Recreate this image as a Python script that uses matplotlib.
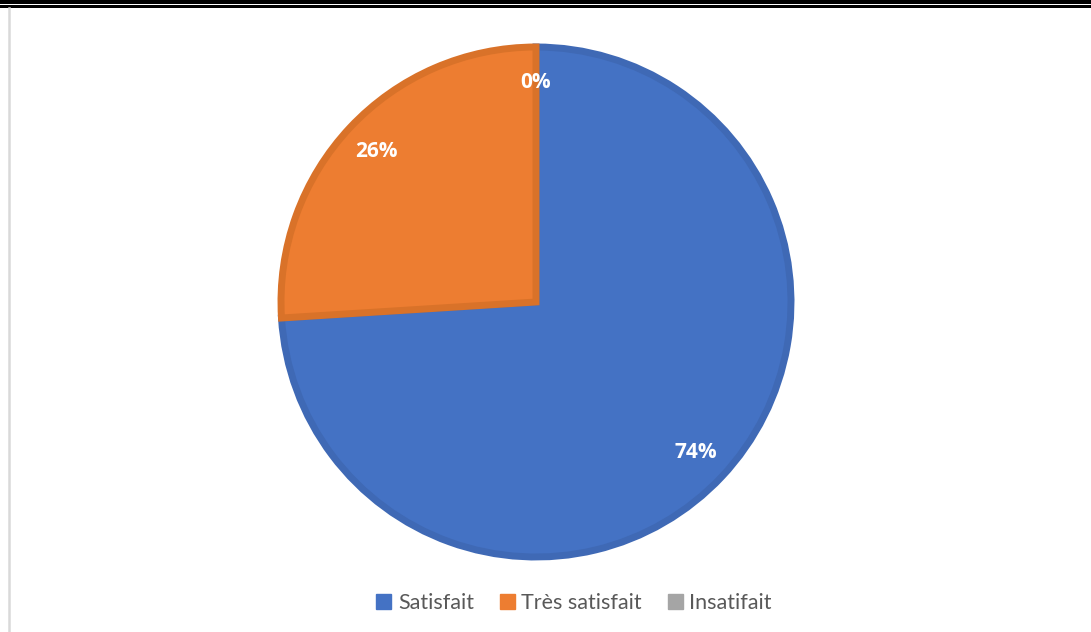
import matplotlib.pyplot as plt
from matplotlib.patches import Rectangle
from matplotlib.lines import Line2D

labels = ['Satisfait', 'Très satisfait', 'Insatifait']
values = [74, 26, 0]
colors = ['#4472C4', '#ED7D31', '#A5A5A5']
edges = ['#3F69B5', '#D97229', '#999999']

plt.rcParams['font.family'] = ['Lato', 'DejaVu Sans']

W, H = 1091, 632
fig = plt.figure(figsize=(W / 100, H / 100), dpi=100)

# pie axes: centre (536, 302) px, radius ~255 px (edge stroke adds a bit)
cx, cy, r = 536, 302, 255
ax = fig.add_axes([(cx - r) / W, (H - cy - r) / H, 2 * r / W, 2 * r / H])

wedges, texts, autotexts = ax.pie(
    values, colors=colors, startangle=90, counterclock=False,
    autopct='%1.0f%%', pctdistance=0.86,
    wedgeprops=dict(linewidth=5, edgecolor='none'),
    textprops=dict(color='white', fontsize=15, fontweight='bold',
                   family=['Open Sans', 'DejaVu Sans']))
for w, e, v in zip(wedges, edges, values):
    w.set_edgecolor(e)
    if v == 0:
        w.set_linewidth(0)
ax.set_xlim(-1, 1)
ax.set_ylim(-1, 1)

# legend
handles = [Rectangle((0, 0), 1, 1, facecolor=c, edgecolor=c) for c in colors]
fig.legend(handles, labels, loc='center', bbox_to_anchor=(574 / W, 1 - 603 / H),
           ncol=3, frameon=False, fontsize=15.5, labelcolor='#595959',
           handlelength=0.7, handleheight=0.7, handletextpad=0.3,
           columnspacing=1.2)

# page decorations: double rule at top, grey border on the left
fig.add_artist(Rectangle((0, 1 - 3.5 / H), 1, 3.5 / H, transform=fig.transFigure,
                         facecolor='black', edgecolor='none'))
fig.add_artist(Rectangle((0, 1 - 7.5 / H), 1, 2.8 / H, transform=fig.transFigure,
                         facecolor='black', edgecolor='none'))
fig.add_artist(Line2D([8.5 / W, 8.5 / W], [0, 1 - 8 / H], transform=fig.transFigure,
                      color='#D9D9D9', linewidth=1.8))

fig.savefig('out.png', dpi=100)
